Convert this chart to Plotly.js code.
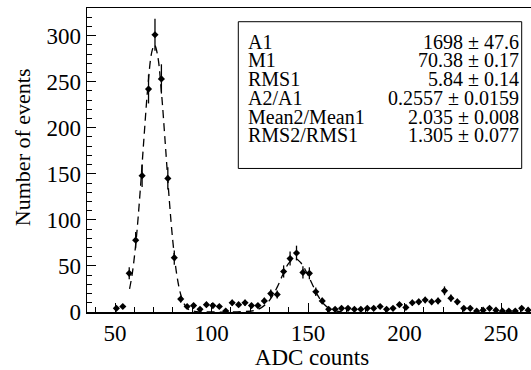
<!DOCTYPE html>
<html>
<head>
<meta charset="utf-8">
<script src="https://cdn.plot.ly/plotly-3.0.1.min.js"></script>
<style>
html,body{margin:0;padding:0;overflow:hidden;background:#fff;}
#chart{width:547px;height:370px;}
</style>
</head>
<body>
<div id="chart"></div>
<script>
// Histogram bin centres (ADC counts)
var binCenters = [50.67,54.00,57.33,60.67,64.00,67.33,70.67,74.00,77.33,80.67,84.00,87.33,90.67,94.00,97.33,100.67,104.00,107.33,110.67,114.00,117.33,120.67,124.00,127.33,130.67,134.00,137.33,140.67,144.00,147.33,150.67,154.00,157.33,160.67,164.00,167.33,170.67,174.00,177.33,180.67,184.00,187.33,190.67,194.00,197.33,200.67,204.00,207.33,210.67,214.00,217.33,220.67,224.00,227.33,230.67,234.00,237.33,240.67,244.00,247.33,250.67,254.00,257.33,260.67,264.00];
// Number of events per bin
var counts = [4,6,42,78,148,242,301,253,145,59,14,6,7,3,8,7,6,1,10,8,10,7,7,12,20,19,44,58,64,43,42,22,12,3,3,4,4,3,3,4,4,6,3,4,8,5,10,11,13,11,12,23,15,11,4,4,1,2,4,2,1,1,1,4,2];
// Statistical errors per bin
var countErrors = [2,2.4,6.5,8.8,12.2,15.6,17.3,15.9,12,7.7,3.7,2.4,2.6,1.7,2.8,2.6,2.4,1,3.2,2.8,3.2,2.6,2.6,3.5,4.5,4.4,6.6,7.6,8,6.6,6.5,4.7,3.5,1.7,1.7,2,2,1.7,1.7,2,2,2.4,1.7,2,2.8,2.2,3.2,3.3,3.6,3.3,3.5,4.8,3.9,3.3,2,2,1,1.4,2,1.4,1,1,1,2,1.4];
// Fitted curve (dashed)
var fitX = [57.5,59,61,63,65,67,69,70.4,72,74,76,78,80,82,84,86,88,92,100,115,122,126,130,134,137,140,143.2,146,149,152,155,158,161,165,170];
var fitY = [25,43,80,131,190,245,282,290,279,239,183,124,75,40,19,8,3,0.5,0,0.3,1.5,5,12.7,27,41,53,58,54,44,31,18,9,4,1,0.2];
// Fit results box
var statNames = ["A1","M1","RMS1","A2/A1","Mean2/Mean1","RMS2/RMS1"];
var statValues = ["1698 \u00b1 47.6","70.38 \u00b1 0.17","5.84 \u00b1 0.14","0.2557 \u00b1 0.0159","2.035 \u00b1 0.008","1.305 \u00b1 0.077"];
var yTicks = [0,50,100,150,200,250,300];
var xTicks = [50,100,150,200,250];

var FONT = "Liberation Serif, Times New Roman, serif";
var plotL = 87, plotW = 450, plotT = 8, plotBottomPx = 311.7, plotH = plotBottomPx - plotT;
function px2paperX(px){ return (px - plotL) / plotW; }
function px2paperY(py){ return (plotBottomPx - py) / plotH; }

var traces = [
  {x: fitX, y: fitY, type: 'scatter', mode: 'lines', line: {color: '#000', width: 1.3, dash: '8px,5px', shape: 'spline'}, hoverinfo: 'skip'},
  {x: binCenters, y: counts, type: 'scatter', mode: 'markers',
   marker: {symbol: 'diamond', size: 5.5, color: '#000'},
   error_y: {type: 'data', array: countErrors, visible: true, color: '#000', thickness: 1.3, width: 0}}
];

var annotations = [];
var y0 = 41.7, dy = 18.7;
for (var i = 0; i < statNames.length; i++) {
  var yy = px2paperY(y0 + dy * i);
  annotations.push({xref: 'paper', yref: 'paper', x: px2paperX(246), y: yy, xanchor: 'left', yanchor: 'middle', text: statNames[i], showarrow: false, font: {family: FONT, size: 20, color: '#000'}});
  annotations.push({xref: 'paper', yref: 'paper', x: px2paperX(521), y: yy, xanchor: 'right', yanchor: 'middle', text: statValues[i], showarrow: false, font: {family: FONT, size: 20, color: '#000'}});
}
// y-axis title
annotations.push({xref: 'paper', yref: 'paper', x: px2paperX(22), y: px2paperY(147), xanchor: 'center', yanchor: 'middle', textangle: -90, text: 'Number of events', showarrow: false, font: {family: FONT, size: 22, color: '#000'}});

var layout = {
  width: 547, height: 370,
  margin: {l: plotL, r: 547 - plotL - plotW, t: plotT, b: 370 - plotBottomPx},
  paper_bgcolor: '#fff', plot_bgcolor: '#fff',
  showlegend: false,
  font: {family: FONT, size: 23, color: '#000'},
  xaxis: {
    range: [35.45, 268.6], tickvals: xTicks, ticktext: xTicks.map(String),
    ticks: 'inside', ticklen: 9, tickwidth: 1, tickcolor: '#000',
    minor: {dtick: 10, tick0: 0, ticks: 'inside', ticklen: 5, tickcolor: '#000'},
    showline: true, linecolor: '#000', linewidth: 1.5, mirror: true,
    showgrid: false, zeroline: false,
    tickfont: {family: FONT, size: 23, color: '#000'},
    title: {text: 'ADC counts', font: {family: FONT, size: 23, color: '#000'}, standoff: 6}
  },
  yaxis: {
    range: [0, 330], tickvals: yTicks, ticktext: yTicks.map(String),
    ticks: 'inside', ticklen: 9, tickwidth: 1, tickcolor: '#000',
    minor: {dtick: 10, tick0: 0, ticks: 'inside', ticklen: 5, tickcolor: '#000'},
    showline: true, linecolor: '#000', linewidth: 1.5, mirror: true,
    showgrid: false, zeroline: false,
    tickfont: {family: FONT, size: 23, color: '#000'}
  },
  shapes: [
    {type: 'rect', xref: 'paper', yref: 'paper', x0: px2paperX(238.3), x1: px2paperX(521.7), y0: px2paperY(168.3), y1: px2paperY(21.7), line: {color: '#000', width: 1}, fillcolor: '#fff', layer: 'above'}
  ],
  annotations: annotations
};

Plotly.newPlot('chart', traces, layout, {staticPlot: true, displayModeBar: false});
</script>
</body>
</html>
